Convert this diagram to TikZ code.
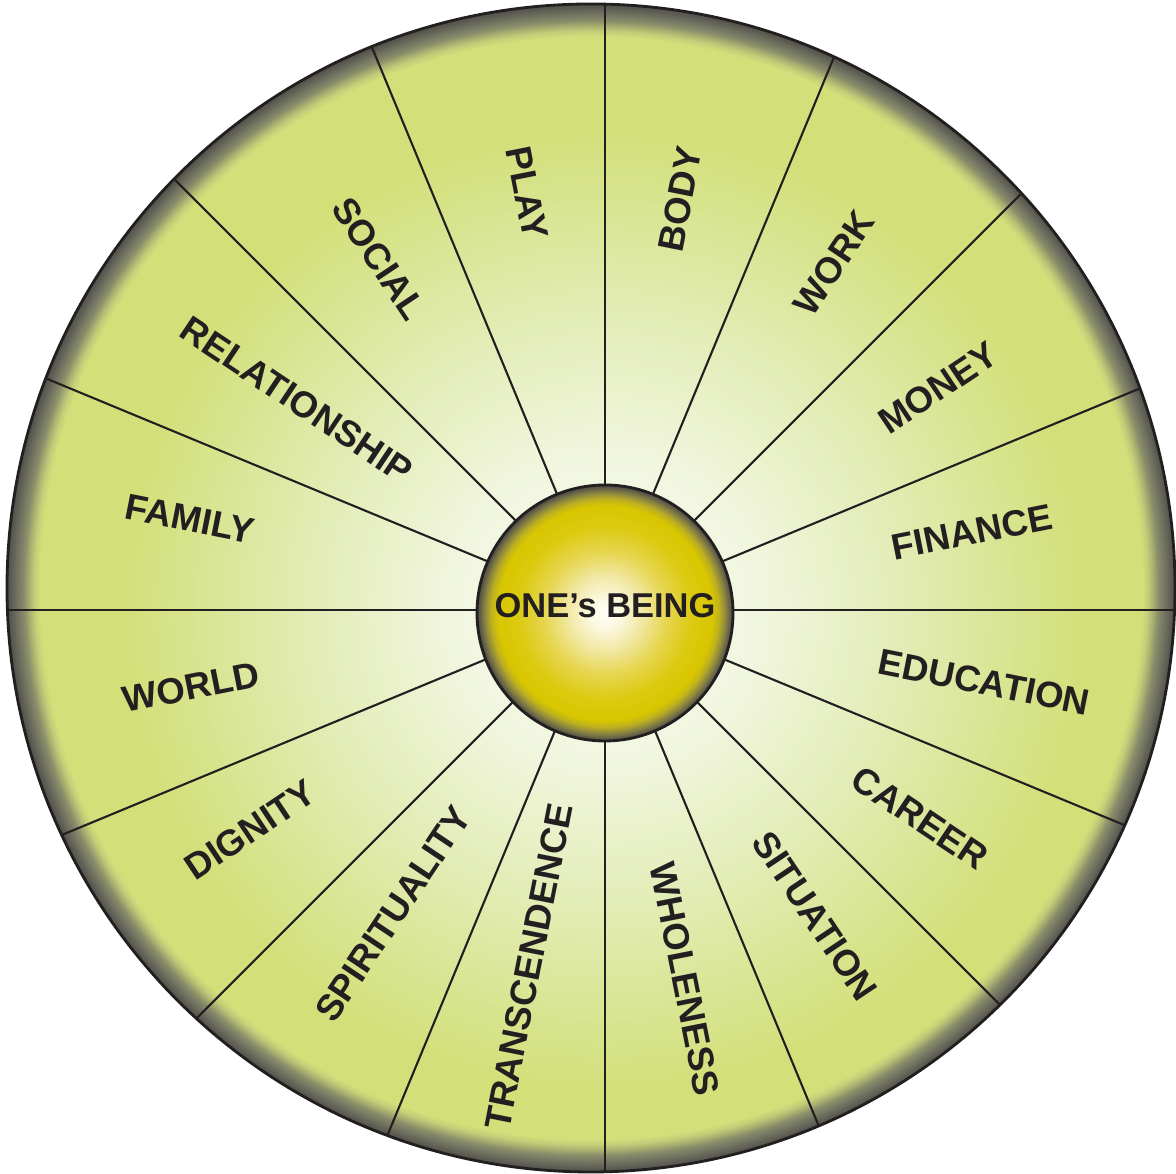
\documentclass[tikz,border=0pt]{standalone}
\usepackage{fontspec}
\setmainfont{Liberation Sans}
\definecolor{lg}{HTML}{D2E07A}
\definecolor{rimA}{HTML}{C3CD78}
\definecolor{rimB}{HTML}{A9B070}
\definecolor{rimC}{HTML}{8A8F6A}
\definecolor{rimD}{HTML}{6F7060}
\definecolor{rimE}{HTML}{4F4F48}
\definecolor{paleA}{HTML}{FAFCF2}
\definecolor{paleB}{HTML}{F1F6DF}
\definecolor{paleC}{HTML}{E3EDB8}
\definecolor{paleD}{HTML}{D8E592}
\definecolor{yA}{HTML}{FFFFF8}
\definecolor{yB}{HTML}{FBF8E0}
\definecolor{yC}{HTML}{F2E9A8}
\definecolor{yD}{HTML}{E6D650}
\definecolor{yE}{HTML}{DCCA10}
\definecolor{yF}{HTML}{D8C600}
\definecolor{yG}{HTML}{BDB020}
\definecolor{yH}{HTML}{8C8640}
\definecolor{yI}{HTML}{5E5C48}
\definecolor{yJ}{HTML}{4A4840}
\definecolor{ink}{HTML}{231F20}
\pgfdeclareradialshading{rimshade}{\pgfpoint{0bp}{0bp}}{color(0bp)=(lg); color(23.59bp)=(lg); color(23.84bp)=(rimA); color(24.06bp)=(rimB); color(24.27bp)=(rimC); color(24.61bp)=(rimD); color(25bp)=(rimE); color(50bp)=(rimE)}
\pgfdeclareradialshading{paleshade}{\pgfpoint{0bp}{0bp}}{color(0bp)=(paleA); color(8bp)=(paleB); color(15bp)=(paleC); color(21bp)=(paleD); color(25bp)=(lg); color(50bp)=(lg)}
\pgfdeclareradialshading{yellowball}{\pgfpoint{0bp}{0bp}}{color(0bp)=(yA); color(3bp)=(yB); color(7bp)=(yC); color(12bp)=(yD); color(17bp)=(yE); color(21bp)=(yF); color(22.3bp)=(yG); color(23.5bp)=(yH); color(24.5bp)=(yI); color(25bp)=(yJ); color(50bp)=(yJ)}
\tikzset{
  lab/.style={font=\bfseries\fontsize{10.4}{12}\selectfont, text=ink, inner sep=0pt},
  spoke/.style={draw=ink, line width=0.6pt},
  rimline/.style={draw=ink, line width=0.8pt}
}
\begin{document}
\begin{tikzpicture}[x=0.01cm,y=0.01cm]
\useasboundingbox (0,0) rectangle (1176,1174);
% outer disc
\coordinate (oc) at (591,586);
\coordinate (hub) at (605,564);
\coordinate (ic) at (605,561);
\shade[shading=rimshade] (oc) circle (584);
\shade[shading=paleshade] (hub) circle (480);
% spokes
\begin{scope}
\clip (oc) circle (584);
\foreach \a in {0,22.5,...,337.5}{
  \draw[spoke] (hub) -- ++(\a:700);
}
\end{scope}
\draw[rimline] (oc) circle (584);
% central ball
\shade[shading=yellowball] (ic) circle (128);
\draw[rimline] (ic) circle (128);
\node[font=\bfseries\fontsize{9.8}{12}\selectfont, text=ink, inner sep=0pt] (being) at (605,568.5) {ONE’s BEING};
% labels
\node[lab, rotate=-78.75] (play) at (527,981) {PLAY};
\node[lab, rotate=-56.25] (social) at (379,915) {SOCIAL};
\node[lab, rotate=-33.75] (relationship) at (297,774) {RELATIONSHIP};
\node[lab, rotate=-11.25] (family) at (190,655) {FAMILY};
\node[lab, rotate=11.25] (world) at (191,487) {WORLD};
\node[lab, rotate=33.75] (dignity) at (250,344) {DIGNITY};
\node[lab, rotate=56.25] (spirituality) at (393,260) {SPIRITUALITY};
\node[lab, rotate=78.75] (transcendence) at (529,207) {TRANSCENDENCE};
\node[lab, rotate=-78.75] (wholeness) at (685,195) {WHOLENESS};
\node[lab, rotate=-56.25] (situation) at (815,258) {SITUATION};
\node[lab, rotate=-33.75] (career) at (920,356) {CAREER};
\node[lab, rotate=-11.25] (education) at (984,492) {EDUCATION};
\node[lab, rotate=11.25] (finance) at (972,642) {FINANCE};
\node[lab, rotate=33.75] (money) at (938,786) {MONEY};
\node[lab, rotate=56.25] (work) at (834,911) {WORK};
\node[lab, rotate=78.75] (body) at (680,975) {BODY};
\end{tikzpicture}
\end{document}
